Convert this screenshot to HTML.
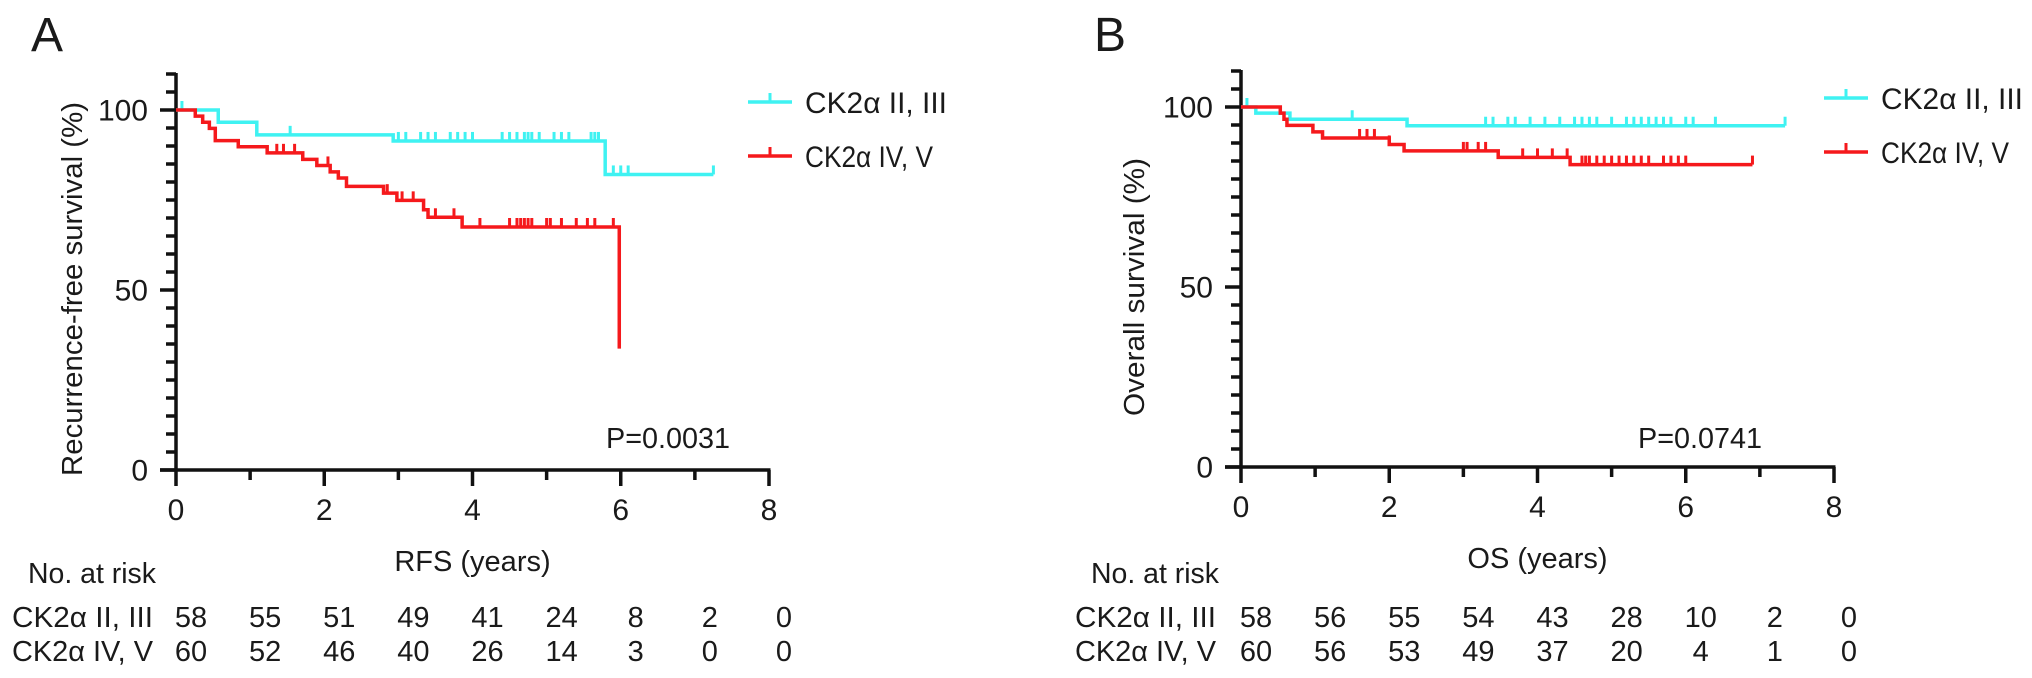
<!DOCTYPE html>
<html><head><meta charset="utf-8"><style>
html,body{margin:0;padding:0;background:#fff;}
svg{display:block;font-family:"Liberation Sans",Arial,sans-serif;}
</style></head><body>
<svg id="fig" width="2032" height="678" viewBox="0 0 2032 678" xmlns="http://www.w3.org/2000/svg"></svg>
<script>
// ---- Panel A (RFS) data ----
const xTicks = [0, 2, 4, 6, 8];
const yTicks = [0, 50, 100];
const riskYears = [0, 1, 2, 3, 4, 5, 6, 7, 8];
const aHiTimes = [0, 0.57, 1.09, 2.93, 5.79];
const aHiSurv = [100, 96.6, 93.1, 91.4, 82.1];
const aHiEnd = 7.25;
const aHiCens = [0.08, 1.54, 3.0, 3.1, 3.3, 3.4, 3.5, 3.7, 3.8, 3.9, 4.0, 4.4, 4.5, 4.6, 4.7, 4.75, 4.8, 4.9, 5.1, 5.2, 5.3, 5.6, 5.65, 5.7, 5.9, 6.0, 6.1, 7.25];
const aLoTimes = [0, 0.26, 0.36, 0.45, 0.53, 0.84, 1.23, 1.71, 1.9, 2.08, 2.19, 2.3, 2.8, 2.98, 3.34, 3.4, 3.86, 5.98];
const aLoSurv = [100, 98.3, 96.6, 94.9, 91.5, 89.8, 88.1, 86.3, 84.6, 82.8, 81.1, 78.8, 76.9, 74.9, 72.3, 70.2, 67.5, 33.7];
const aLoEnd = 5.98;
const aLoCens = [1.36, 1.45, 1.6, 2.05, 2.85, 3.05, 3.2, 3.5, 3.75, 4.1, 4.5, 4.6, 4.65, 4.7, 4.75, 4.8, 5.0, 5.05, 5.2, 5.4, 5.55, 5.65, 5.9];
const aRiskHi = [58, 55, 51, 49, 41, 24, 8, 2, 0];
const aRiskLo = [60, 52, 46, 40, 26, 14, 3, 0, 0];
// ---- Panel B (OS) data ----
const bHiTimes = [0, 0.2, 0.66, 2.24];
const bHiSurv = [100, 98.3, 96.6, 94.8];
const bHiEnd = 7.34;
const bHiCens = [0.08, 1.5, 3.3, 3.4, 3.6, 3.7, 3.9, 4.1, 4.3, 4.5, 4.6, 4.7, 4.8, 5.0, 5.2, 5.3, 5.4, 5.5, 5.6, 5.7, 5.8, 6.0, 6.1, 6.4, 7.34];
const bLoTimes = [0, 0.53, 0.58, 0.62, 0.97, 1.1, 2.0, 2.2, 3.47, 4.44];
const bLoSurv = [100, 98.3, 96.6, 94.9, 93.1, 91.4, 89.6, 87.8, 86.0, 84.0];
const bLoEnd = 6.9;
const bLoCens = [1.6, 1.7, 1.8, 2.0, 3.0, 3.05, 3.2, 3.3, 3.8, 4.0, 4.2, 4.4, 4.6, 4.65, 4.7, 4.8, 4.9, 5.0, 5.1, 5.2, 5.3, 5.4, 5.5, 5.7, 5.8, 5.9, 6.0, 6.9];
const bRiskHi = [58, 56, 55, 54, 43, 28, 10, 2, 0];
const bRiskLo = [60, 56, 53, 49, 37, 20, 4, 1, 0];

const NS = "http://www.w3.org/2000/svg";
const svg = document.getElementById('fig');
const CYAN = "#3ff2f2", RED = "#f5191c";
const FS = 29;

function mk(tag, attrs, parent, text) {
  const e = document.createElementNS(NS, tag);
  for (const k in attrs) e.setAttribute(k, attrs[k]);
  if (text !== undefined) e.textContent = text;
  (parent || svg).appendChild(e);
  return e;
}

function panel(cfg) {
  const g = mk('g', {fill: '#1a1a1a'});
  
  
  const x0 = cfg.x0, x8 = cfg.x8, y0 = cfg.y0, y100 = cfg.y100;
  const xs = v => x0 + (x8 - x0) * v / 8;
  const ys = v => y0 + (y100 - y0) * v / 100;

  let t = mk('text', {x: cfg.letterX, y: 51, 'font-size': 48}, g, cfg.letter);
  
  

  // y axis
  const ax = mk('g', {stroke: '#111', 'stroke-width': 3.5, fill: 'none'}, g);
  
  
  mk('line', {x1: x0, y1: ys(110) - 1, x2: x0, y2: y0 + 1}, ax);
  for (let v = 0; v <= 110; v += 5) {
    const major = v % 50 === 0;
    mk('line', {x1: x0 - (major ? 16 : 10), y1: ys(v), x2: x0, y2: ys(v)}, ax);
  }
  yTicks.forEach(v => {
    const l = mk('text', {x: x0 - 28, y: ys(v) + 10.5, 'font-size': 30, 'text-anchor': 'end'}, g, String(v));
    
    
  });
  // x axis
  const xa = mk('g', {stroke: '#111', 'stroke-width': 3.5, fill: 'none'}, g);
  
  
  mk('line', {x1: x0 - 16, y1: y0, x2: xs(8) + 1.5, y2: y0}, xa);
  for (let v = 0; v <= 8; v++) {
    mk('line', {x1: xs(v), y1: y0, x2: xs(v), y2: y0 + (v % 2 === 0 ? 16 : 10)}, xa);
  }
  xTicks.forEach(v => {
    const l = mk('text', {x: xs(v), y: y0 + 50, 'font-size': 30, 'text-anchor': 'middle'}, g, String(v));
    
    
  });
  t = mk('text', {x: xs(4), y: y0 + 101, 'font-size': FS, 'text-anchor': 'middle'}, g, cfg.xTitle);
  
  
  t = mk('text', {x: 0, y: 0, 'font-size': FS, 'text-anchor': 'middle', transform: `translate(${cfg.yTitleX},${cfg.yTitleY}) rotate(-90)`, textLength: cfg.yTitleLen, lengthAdjust: 'spacingAndGlyphs'}, g, cfg.yTitle);
  
  

  // curves
  function curve(times, surv, end, cens, color, nm) {
    const cg = mk('g', {stroke: color, 'stroke-width': 3.5, fill: 'none'}, g);
    
    
    let d = `M${xs(times[0])},${ys(surv[0])}`;
    for (let i = 1; i < times.length; i++) {
      d += ` H${xs(times[i])} V${ys(surv[i])}`;
    }
    d += ` H${xs(end)}`;
    const p = mk('path', {d: d, 'stroke-linejoin': 'miter'}, cg);
    
    
    cens.forEach(c => {
      let s = surv[0];
      for (let i = 0; i < times.length; i++) if (times[i] <= c) s = surv[i];
      const m = mk('line', {x1: xs(c), y1: ys(s), x2: xs(c), y2: ys(s) - 9, 'stroke-width': 3}, cg);
      
      
    });
  }
  curve(cfg.hiT, cfg.hiS, cfg.hiE, cfg.hiC, CYAN, 'curve-ck2a-ii-iii');
  curve(cfg.loT, cfg.loS, cfg.loE, cfg.loC, RED, 'curve-ck2a-iv-v');

  // p-value
  t = mk('text', {x: cfg.pX, y: 448, 'font-size': FS, textLength: 124, lengthAdjust: 'spacingAndGlyphs'}, g, cfg.pText);
  
  

  // legend
  [[CYAN, 'CK2α II, III', cfg.legY], [RED, 'CK2α IV, V', cfg.legY + 54]].forEach(([c, lab, ly], i) => {
    const lg = mk('g', {}, g);
    
    
    mk('line', {x1: cfg.legX, y1: ly, x2: cfg.legX + 44, y2: ly, stroke: c, 'stroke-width': 3.5}, lg);
    mk('line', {x1: cfg.legX + 22, y1: ly, x2: cfg.legX + 22, y2: ly - 9, stroke: c, 'stroke-width': 3}, lg);
    mk('text', {x: cfg.legX + 57, y: ly + 11, 'font-size': 30, textLength: i === 0 ? 142 : 128, lengthAdjust: 'spacingAndGlyphs'}, lg, lab);
  });

  // risk table
  const rt = mk('g', {'font-size': FS}, g);
  
  
  t = mk('text', {x: cfg.tableX + 16, y: 583, textLength: 128, lengthAdjust: 'spacingAndGlyphs'}, rt, 'No. at risk');
  
  
  [[cfg.riskHi, 'CK2α II, III', 627, 141], [cfg.riskLo, 'CK2α IV, V', 661, 141]].forEach(([arr, lab, by, len]) => {
    const r = mk('text', {x: cfg.tableX, y: by, textLength: len, lengthAdjust: 'spacingAndGlyphs'}, rt, lab);
    
    
    arr.forEach((v, k) => {
      const n = mk('text', {x: xs(riskYears[k]) + 15, y: by, 'text-anchor': 'middle'}, rt, String(v));
      
      
    });
  });
}

panel({name: 'panel-a-rfs', letter: 'A', letterX: 31, x0: 176, x8: 769, y0: 470, y100: 110,
  xTitle: 'RFS (years)', yTitle: 'Recurrence-free survival (%)', yTitleX: 82, yTitleY: 289, yTitleLen: 374,
  hiT: aHiTimes, hiS: aHiSurv, hiE: aHiEnd, hiC: aHiCens,
  loT: aLoTimes, loS: aLoSurv, loE: aLoEnd, loC: aLoCens,
  pX: 606, pText: 'P=0.0031', legX: 748, legY: 102, tableX: 12, riskHi: aRiskHi, riskLo: aRiskLo});
panel({name: 'panel-b-os', letter: 'B', letterX: 1094, x0: 1241, x8: 1834, y0: 467, y100: 107,
  xTitle: 'OS (years)', yTitle: 'Overall survival (%)', yTitleX: 1144, yTitleY: 287, yTitleLen: 258,
  hiT: bHiTimes, hiS: bHiSurv, hiE: bHiEnd, hiC: bHiCens,
  loT: bLoTimes, loS: bLoSurv, loE: bLoEnd, loC: bLoCens,
  pX: 1638, pText: 'P=0.0741', legX: 1824, legY: 98, tableX: 1075, riskHi: bRiskHi, riskLo: bRiskLo});
</script>
</body></html>
